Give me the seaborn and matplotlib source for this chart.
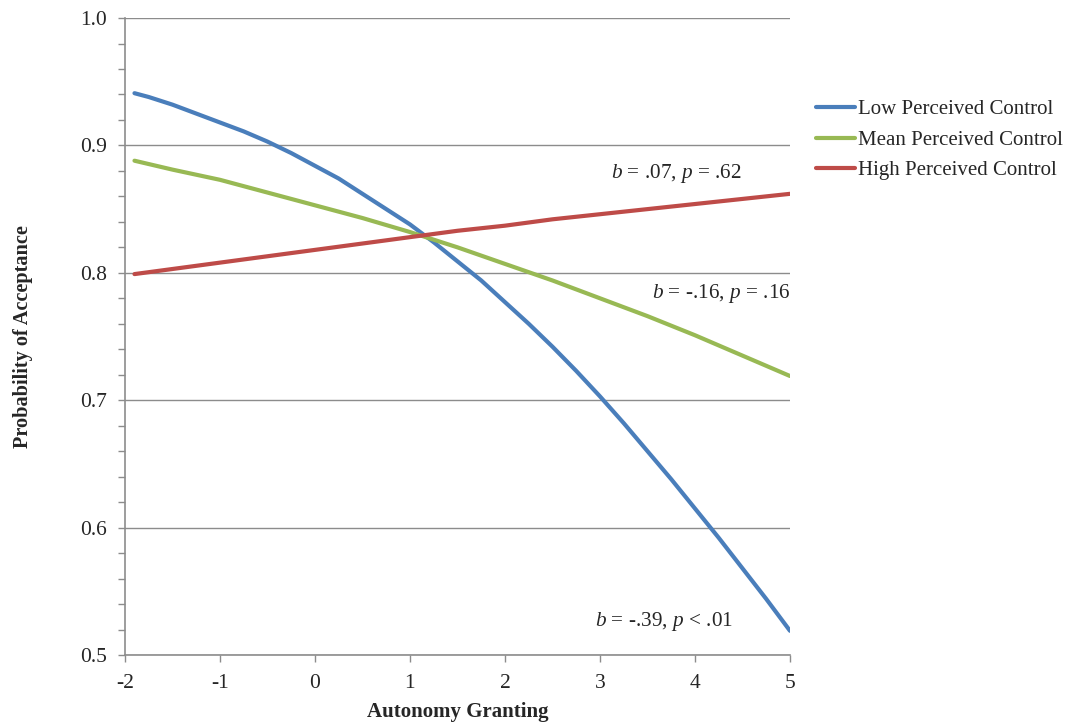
import matplotlib
matplotlib.use('Agg')
import matplotlib.pyplot as plt
from matplotlib.ticker import MultipleLocator
import seaborn as sns
import pandas as pd

# values
x_low = [-1.9, -1.75, -1.5, -1.25, -1.0, -0.75, -0.5, -0.25, 0.0, 0.25, 0.5, 0.75,
         1.0, 1.25, 1.5, 1.75, 2.0, 2.25, 2.5, 2.75, 3.0, 3.25, 3.5, 3.75, 4.0,
         4.25, 4.5, 4.75, 5.0]
low_pc = [0.941, 0.938, 0.932, 0.925, 0.918, 0.911, 0.903, 0.894, 0.884, 0.874,
          0.862, 0.850, 0.838, 0.824, 0.809, 0.794, 0.777, 0.760, 0.742, 0.723,
          0.703, 0.682, 0.660, 0.638, 0.615, 0.592, 0.568, 0.544, 0.519]
x_other = [-1.9, -1.5, -1.0, -0.5, 0.0, 0.5, 1.0, 1.5, 2.0, 2.5, 3.0, 3.5, 4.0, 4.5, 5.0]
mean_pc = [0.888, 0.881, 0.873, 0.863, 0.853, 0.843, 0.832, 0.820, 0.807, 0.794,
           0.780, 0.766, 0.751, 0.735, 0.719]
high_pc = [0.799, 0.803, 0.808, 0.813, 0.818, 0.823, 0.828, 0.833, 0.837, 0.842,
           0.846, 0.850, 0.854, 0.858, 0.862]
groups = ['Low Perceived Control', 'Mean Perceived Control', 'High Perceived Control']
colors = ['#4A7EBB', '#98B954', '#BE4B48']

df = pd.concat([
    pd.DataFrame({'x': xs, 'p': vals, 'group': g})
    for g, xs, vals in zip(groups, [x_low, x_other, x_other], [low_pc, mean_pc, high_pc])
])

sns.set_style('white')
plt.rcParams['font.family'] = ['Liberation Serif', 'DejaVu Serif']
plt.rcParams['mathtext.fontset'] = 'custom'
plt.rcParams['mathtext.rm'] = 'Liberation Serif'
plt.rcParams['mathtext.it'] = 'Liberation Serif:italic'
plt.rcParams['axes.unicode_minus'] = False

fig = plt.figure(figsize=(10.71, 7.24), dpi=100)
ax = fig.add_axes([0.1167, 0.0953, 0.6209, 0.8798])

sns.lineplot(data=df, x='x', y='p', hue='group', hue_order=groups, palette=colors,
             linewidth=3, ax=ax, legend=True)

grid_col = '#8c8c8c'
ax.set_xlim(-2, 5)
ax.set_ylim(0.5, 1.0)
ax.xaxis.set_major_locator(MultipleLocator(1))
ax.yaxis.set_major_locator(MultipleLocator(0.1))
ax.yaxis.set_minor_locator(MultipleLocator(0.02))
ax.set_yticklabels([f'{v:.1f}' for v in ax.get_yticks()])
ax.yaxis.grid(True, which='major', color=grid_col, linewidth=1)
ax.set_axisbelow(True)
for s in ['top', 'right']:
    ax.spines[s].set_visible(False)
for s in ['left', 'bottom']:
    ax.spines[s].set_color(grid_col)
    ax.spines[s].set_linewidth(1.2)
ax.tick_params(axis='both', which='both', direction='out', length=5,
               color=grid_col, width=1, labelsize=15.5, left=True, bottom=True)
ax.tick_params(axis='y', pad=8)
ax.tick_params(axis='x', pad=9)
ax.set_xlabel('Autonomy Granting', fontsize=15, fontweight='bold')
ax.set_ylabel('Probability of Acceptance', fontsize=14.6, fontweight='bold')
ax.xaxis.set_label_coords(0.5, -0.0735)
ax.yaxis.set_label_coords(-0.1385, 0.5)

ann_size = 15.3
ax.text(3.12, 0.878, r'$b$ = .07, $p$ = .62', fontsize=ann_size, ha='left', va='center')
ax.text(3.55, 0.784, r'$b$ = -.16, $p$ = .16', fontsize=ann_size, ha='left', va='center')
ax.text(2.95, 0.526, r'$b$ = -.39, $p$ < .01', fontsize=ann_size, ha='left', va='center')

handles, labels = ax.get_legend_handles_labels()
ax.legend(handles, labels, loc='upper left', bbox_to_anchor=(0.762, 0.862),
          bbox_transform=fig.transFigure, frameon=False, fontsize=15,
          handlelength=1.85, handletextpad=0.15, labelspacing=0.52,
          borderaxespad=0, borderpad=0)

fig.savefig('out.png', dpi=100)
